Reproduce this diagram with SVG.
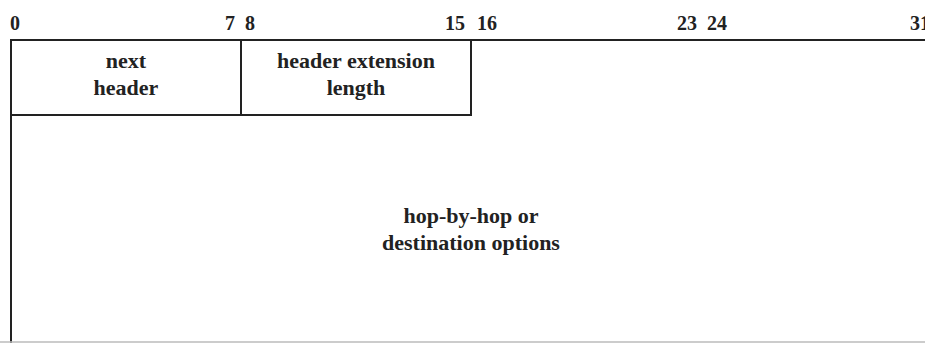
<svg xmlns="http://www.w3.org/2000/svg" width="925" height="343" viewBox="0 0 925 343">
<style>
.ln{stroke:#222;stroke-width:2;fill:none}
.lbl{font-family:"Liberation Serif",serif;font-weight:bold;font-size:22px;fill:#222;text-anchor:middle}
.num{font-family:"Liberation Serif",serif;font-weight:bold;font-size:20px;fill:#222}
</style>
<rect width="925" height="343" fill="#fff"/>
<g id="ruler">
<text class="num" x="10" y="30">0</text>
<text class="num" x="235" y="30" text-anchor="end">7</text>
<text class="num" x="245" y="30">8</text>
<text class="num" x="465" y="30" text-anchor="end">15</text>
<text class="num" x="477" y="30">16</text>
<text class="num" x="697" y="30" text-anchor="end">23</text>
<text class="num" x="707" y="30">24</text>
<text class="num" x="910" y="30">31</text>
</g>
<g id="frame">
<line class="ln" x1="10" y1="40" x2="925" y2="40"/>
<line class="ln" x1="11" y1="39" x2="11" y2="343"/>
<line x1="0" y1="342" x2="925" y2="342" stroke="#bbb" stroke-width="1.5"/>
</g>
<g id="next-header">
<rect class="ln" x="11" y="40" width="230" height="75"/>
<text class="lbl" x="126" y="68">next</text>
<text class="lbl" x="126" y="95">header</text>
</g>
<g id="hdr-ext-len">
<rect class="ln" x="241" y="40" width="230" height="75"/>
<text class="lbl" x="356" y="68">header extension</text>
<text class="lbl" x="356" y="95">length</text>
</g>
<g id="options">
<text class="lbl" x="471" y="223">hop-by-hop or</text>
<text class="lbl" x="471" y="250">destination options</text>
</g>
</svg>
